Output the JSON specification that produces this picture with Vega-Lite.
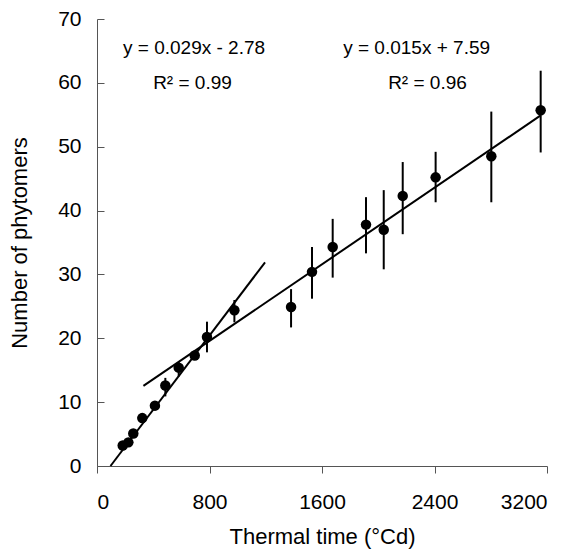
{
  "$schema": "https://vega.github.io/schema/vega-lite/v6.json",
  "width": 450,
  "height": 447,
  "autosize": "none",
  "padding": {"left": 97, "top": 19, "right": 25, "bottom": 86},
  "background": "white",
  "config": {
    "view": {"stroke": null},
    "font": "Liberation Sans",
    "axis": {"grid": false, "domainColor": "#555", "tickColor": "#555", "labelColor": "#000", "titleColor": "#000", "labelFont": "Liberation Sans", "titleFont": "Liberation Sans", "titleFontWeight": "normal"}
  },
  "datasets": {
    "points": [
      {"tt": 183, "n": 3.2},
      {"tt": 223, "n": 3.7},
      {"tt": 258, "n": 5.1},
      {"tt": 322, "n": 7.5},
      {"tt": 412, "n": 9.45},
      {"tt": 486, "n": 12.6},
      {"tt": 581, "n": 15.4},
      {"tt": 695, "n": 17.3},
      {"tt": 782, "n": 20.2},
      {"tt": 977, "n": 24.4},
      {"tt": 1380, "n": 24.9},
      {"tt": 1529, "n": 30.4},
      {"tt": 1676, "n": 34.3},
      {"tt": 1913, "n": 37.8},
      {"tt": 2039, "n": 37.0},
      {"tt": 2174, "n": 42.3},
      {"tt": 2408, "n": 45.2},
      {"tt": 2804, "n": 48.5},
      {"tt": 3155, "n": 55.7}
    ],
    "errors": [
      {"tt": 486, "lo": 10.9, "hi": 13.8},
      {"tt": 581, "lo": 14.0, "hi": 16.3},
      {"tt": 782, "lo": 17.8, "hi": 22.6},
      {"tt": 977, "lo": 22.5, "hi": 26.0},
      {"tt": 1380, "lo": 21.7, "hi": 27.7},
      {"tt": 1529, "lo": 26.2, "hi": 34.3},
      {"tt": 1676, "lo": 29.5, "hi": 38.7},
      {"tt": 1913, "lo": 33.3, "hi": 42.1},
      {"tt": 2039, "lo": 30.8, "hi": 43.2},
      {"tt": 2174, "lo": 36.3, "hi": 47.6},
      {"tt": 2408, "lo": 41.3, "hi": 49.2},
      {"tt": 2804, "lo": 41.3, "hi": 55.5},
      {"tt": 3155, "lo": 49.1, "hi": 61.9}
    ],
    "fits": [
      {"fit": "early", "tt": 96, "n": 0.0},
      {"fit": "early", "tt": 1195, "n": 31.9},
      {"fit": "late", "tt": 330, "n": 12.54},
      {"fit": "late", "tt": 3155, "n": 54.9}
    ],
    "labels": [
      {"tt": 690, "n": 64.5, "txt": "y = 0.029x - 2.78"},
      {"tt": 679, "n": 59.0, "txt": "R² = 0.99"},
      {"tt": 2273, "n": 64.5, "txt": "y = 0.015x + 7.59"},
      {"tt": 2350, "n": 59.0, "txt": "R² = 0.96"}
    ]
  },
  "layer": [
    {
      "data": {"name": "errors"},
      "mark": {"type": "rule", "color": "#000", "strokeWidth": 2},
      "encoding": {
        "x": {"field": "tt", "type": "quantitative", "scale": {"domain": [0, 3200], "nice": false},
          "axis": {"values": [0, 800, 1600, 2400, 3200], "format": "d", "tickSize": 7, "labelPadding": 18, "labelFontSize": 21, "title": "Thermal time (°Cd)", "titleFontSize": 22, "titleBaseline": "alphabetic", "titleY": 77}},
        "y": {"field": "lo", "type": "quantitative", "scale": {"domain": [0, 70], "nice": false},
          "axis": {"values": [0, 5, 10, 15, 20, 25, 30, 35, 40, 45, 50, 55, 60, 65, 70], "labelExpr": "datum.value % 10 === 0 ? datum.label : ''", "tickSize": -7, "labelPadding": 23, "labelFontSize": 21, "title": "Number of phytomers", "titleFontSize": 22, "titleBaseline": "bottom", "titleX": -66}},
        "y2": {"field": "hi"}
      }
    },
    {
      "data": {"name": "fits"},
      "mark": {"type": "line", "color": "#000", "strokeWidth": 2},
      "encoding": {
        "x": {"field": "tt", "type": "quantitative"},
        "y": {"field": "n", "type": "quantitative"},
        "detail": {"field": "fit"}
      }
    },
    {
      "data": {"name": "points"},
      "mark": {"type": "circle", "color": "#000", "opacity": 1, "size": 110},
      "encoding": {
        "x": {"field": "tt", "type": "quantitative"},
        "y": {"field": "n", "type": "quantitative"}
      }
    },
    {
      "data": {"name": "labels"},
      "mark": {"type": "text", "color": "#000", "fontSize": 19, "align": "center", "baseline": "alphabetic", "font": "Liberation Sans"},
      "encoding": {
        "x": {"field": "tt", "type": "quantitative"},
        "y": {"field": "n", "type": "quantitative"},
        "text": {"field": "txt"}
      }
    }
  ]
}
